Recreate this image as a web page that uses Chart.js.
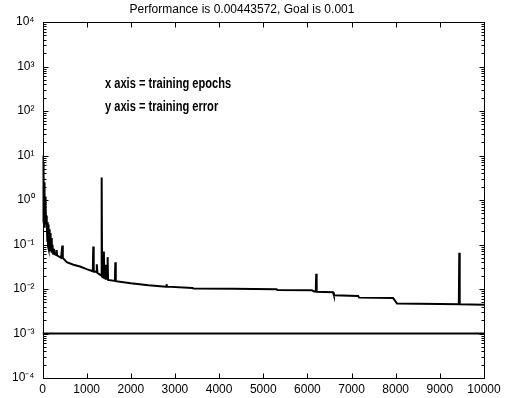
<!DOCTYPE html>
<html>
<head>
<meta charset="utf-8">
<script src="https://cdn.jsdelivr.net/npm/chart.js@4.4.1/dist/chart.umd.min.js"></script>
<style>
  body { margin: 0; background: #fff; }
  canvas { display: block; }
</style>
</head>
<body>
<canvas id="perfChart" width="509" height="398"></canvas>
<script>
// training record
const epochs = [
    0, 6, 12, 18, 24, 30, 36, 42, 50, 58, 66, 74, 82, 92, 100,
    110, 118, 126, 134, 142, 152, 162, 172, 184, 196, 210, 225, 240, 260, 280,
    310, 320, 330, 380, 420, 450, 460, 500, 550, 700, 850, 1000,
    1140, 1150, 1160, 1220, 1230, 1245, 1300, 1335, 1340, 1350,
    1385, 1390, 1400, 1420, 1430, 1470, 1475, 1485, 1640, 1650, 1660,
    2000, 2400, 2800, 2810, 2820, 3400, 3420, 4300, 5300, 5320, 6100,
    6150, 6190, 6200, 6210, 6580, 6600, 7150, 7170, 7940, 8030, 9000,
    9430, 9440, 9450, 10000
];
const trainErr = [
    0.6, 10, 0.35, 7, 0.3, 4, 0.25, 2.5, 0.3, 1.2, 0.28, 0.7, 0.3, 0.45, 0.3,
    0.12, 0.32, 0.09, 0.28, 0.08, 0.22, 0.075, 0.18, 0.07, 0.14, 0.065, 0.1, 0.062, 0.08, 0.06,
    0.058, 0.075, 0.057, 0.053, 0.05, 0.095, 0.05, 0.045, 0.04, 0.035, 0.032, 0.028,
    0.025, 0.09, 0.025, 0.024, 0.036, 0.023, 0.021, 0.02, 3.2, 0.019,
    0.018, 0.07, 0.018, 0.035, 0.017, 0.017, 0.052, 0.016, 0.0152, 0.04, 0.015,
    0.0135, 0.0122, 0.0113, 0.0128, 0.0113, 0.0105, 0.0102, 0.0101, 0.0099, 0.0095, 0.0094,
    0.0088, 0.0088, 0.022, 0.0087, 0.0085, 0.0072, 0.007, 0.0064, 0.0063, 0.0047, 0.0046,
    0.00455, 0.065, 0.00452, 0.00443572
];
const goal = 0.001;
const goalEpochs = [0, 10000];

const xTicks = [0, 1000, 2000, 3000, 4000, 5000, 6000, 7000, 8000, 9000, 10000];
const yExponents = [-4, -3, -2, -1, 0, 1, 2, 3, 4];
const notes = ['x axis = training epochs', 'y axis = training error'];
const titleText = 'Performance is 0.00443572, Goal is 0.001';

const sup = { '-': '\u207B', '0': '\u2070', '1': '\u00B9', '2': '\u00B2', '3': '\u00B3',
    '4': '\u2074', '5': '\u2075', '6': '\u2076', '7': '\u2077', '8': '\u2078', '9': '\u2079' };
function powLabel(e) {
    return '10' + String(e).split('').map(c => sup[c]).join('');
}

const FONT = "'Liberation Sans', Arial, sans-serif";

// matlab style box with inward ticks + the two text notes
const matlabFrame = {
    id: 'matlabFrame',
    afterDraw(chart) {
        const ctx = chart.ctx;
        const a = chart.chartArea;
        const xs = chart.scales.x, ys = chart.scales.y;
        const L = Math.round(a.left) + 0.5, R = Math.round(a.right) + 0.5;
        const T = Math.round(a.top) + 0.5, B = Math.round(a.bottom) + 0.5;
        ctx.save();
        ctx.strokeStyle = '#000';
        ctx.lineWidth = 1;
        ctx.strokeRect(L, T, R - L, B - T);
        ctx.beginPath();
        xTicks.forEach(v => {
            const px = Math.round(xs.getPixelForValue(v)) + 0.5;
            ctx.moveTo(px, B); ctx.lineTo(px, B - 5);
            ctx.moveTo(px, T); ctx.lineTo(px, T + 5);
        });
        yExponents.forEach((e, i) => {
            const py = Math.round(ys.getPixelForValue(Math.pow(10, e))) + 0.5;
            ctx.moveTo(L, py); ctx.lineTo(L + 5, py);
            ctx.moveTo(R, py); ctx.lineTo(R - 5, py);
            if (i < yExponents.length - 1) {
                for (let m = 2; m <= 9; m++) {
                    const q = Math.round(ys.getPixelForValue(m * Math.pow(10, e))) + 0.5;
                    ctx.moveTo(L, q); ctx.lineTo(L + 3, q);
                    ctx.moveTo(R, q); ctx.lineTo(R - 3, q);
                }
            }
        });
        ctx.stroke();

        // narrow bold notes (squeezed with maxWidth)
        ctx.fillStyle = '#000';
        ctx.font = "bold 15px 'Liberation Sans', sans-serif";
        ctx.textBaseline = 'middle';
        ctx.textAlign = 'left';
        notes.forEach((t, i) => {
            const w = ctx.measureText(t).width * 0.74;
            ctx.fillText(t, 105, 84 + i * 23, w);
        });
        ctx.restore();
    }
};

const config = {
    type: 'line',
    data: {
        datasets: [{
            label: 'Training',
            data: epochs.map((e, i) => ({ x: e, y: trainErr[i] })),
            borderColor: '#000',
            borderWidth: 2,
            pointRadius: 0,
            tension: 0,
            order: 1
        }, {
            label: 'Goal',
            data: goalEpochs.map(e => ({ x: e, y: goal })),
            borderColor: '#000',
            borderWidth: 2,
            pointRadius: 0,
            order: 2
        }]
    },
    options: {
        responsive: false,
        animation: false,
        devicePixelRatio: 1,
        layout: {
            padding: { left: 0, right: 25, top: 0, bottom: 0 }
        },
        plugins: {
            legend: { display: false },
            tooltip: { enabled: false },
            title: {
                display: true,
                text: titleText,
                color: '#000',
                font: { family: FONT, size: 12, weight: 'normal' },
                padding: { top: 2, bottom: 5.6 }
            }
        },
        scales: {
            x: {
                type: 'linear',
                min: 0,
                max: 10000,
                grid: { display: false, drawTicks: false },
                border: { display: false },
                ticks: {
                    stepSize: 1000,
                    color: '#000',
                    padding: 4,
                    maxRotation: 0,
                    font: { family: FONT, size: 12 },
                    callback: v => String(v)
                },
                afterFit: s => { s.height = 20; }
            },
            y: {
                type: 'logarithmic',
                min: 1e-4,
                max: 1e4,
                grid: { display: false, drawTicks: false },
                border: { display: false },
                afterBuildTicks: s => {
                    s.ticks = yExponents.map(e => ({ value: Math.pow(10, e) }));
                },
                ticks: {
                    color: '#000',
                    padding: 8,
                    autoSkip: false,
                    font: { family: FONT, size: 12 },
                    callback: v => powLabel(Math.round(Math.log10(v)))
                },
                afterFit: s => { s.width = 42.5; }
            }
        }
    },
    plugins: [matlabFrame]
};

const perfChart = new Chart(document.getElementById('perfChart'), config);
</script>
</body>
</html>
